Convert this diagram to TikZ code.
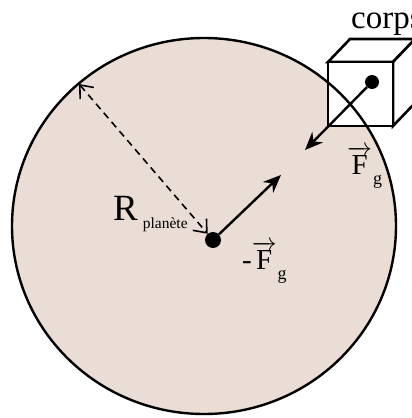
\documentclass[tikz,border=0pt]{standalone}
\usepackage{fontspec}
\setmainfont{Liberation Serif}
\usepackage{amsmath}
\usetikzlibrary{arrows.meta}

\begin{document}
\begin{tikzpicture}[x=1pt, y=-1pt,
    force/.style={line width=2.4pt, -{Stealth[length=18pt, width=15pt, inset=6pt]}},
    radius line/.style={line width=1.6pt, dash pattern=on 7pt off 5pt,
        {Straight Barb[length=11pt, width=18pt]}-{Straight Barb[length=11pt, width=18pt]}},
    mass/.style={circle, fill=black, inner sep=0pt, minimum size=16pt},
    label text/.style={inner sep=0pt, anchor=base west}]

    \definecolor{planetColour}{HTML}{E9DDD5}
    \useasboundingbox (0,0) rectangle (412,418);

    % Define the centre of the planet
    \coordinate (centre) at (204,226);

    % Draw the planet
    \fill[planetColour] (centre) ellipse [x radius=192, y radius=188];

    % Define the corners of the body
    \coordinate (A) at (328,62);   % front top left
    \coordinate (B) at (393,62);
    \coordinate (C) at (393,126);
    \coordinate (D) at (328,126);
    \coordinate (E) at (350,39);   % back top left
    \coordinate (F) at (415,39);
    \coordinate (G) at (415,103);

    % Draw the body
    \draw[line width=2.6pt, fill=white] (A) -- (E) -- (F) -- (B) -- cycle;
    \draw[line width=2.6pt, fill=white] (B) -- (F) -- (G) -- (C) -- cycle;
    \draw[line width=2.6pt, fill=white] (A) -- (B) -- (C) -- (D) -- cycle;

    % Draw the outline of the planet over the body
    \draw[line width=2.4pt] (centre) ellipse [x radius=192, y radius=188];

    % Masses
    \node[mass] (planet) at (213,240) {};
    \node[mass, minimum size=14pt] (body) at (372,82) {};

    % Forces
    \coordinate (Fhead) at (305,150);
    \coordinate (mFhead) at (281,175);
    \draw[force] (body) -- (Fhead);
    \draw[force] (planet) -- (mFhead);

    % Radius of the planet
    \coordinate (rim) at (79,84);
    \draw[radius line] (rim) -- (planet);

    % Labels
    \node[label text, font=\fontsize{33}{33}\selectfont] (corps) at (351,28) {corps};
    \node[label text, font=\fontsize{37}{37}\selectfont] (R) at (113,220)
        {R\hspace{5pt}\raisebox{-8pt}{\fontsize{15.5}{15.5}\selectfont planète}};
    \node[label text, font=\fontsize{29}{29}\selectfont] (Fg) at (347,174)
        {$\overrightarrow{\text{F}}$\hspace{1pt}\raisebox{-10pt}{\fontsize{18}{18}\selectfont g}};
    \node[label text, font=\fontsize{29}{29}\selectfont] (mFg) at (242,269)
        {-$\overrightarrow{\text{F}}$\hspace{1pt}\raisebox{-10pt}{\fontsize{18}{18}\selectfont g}};

\end{tikzpicture}
\end{document}
